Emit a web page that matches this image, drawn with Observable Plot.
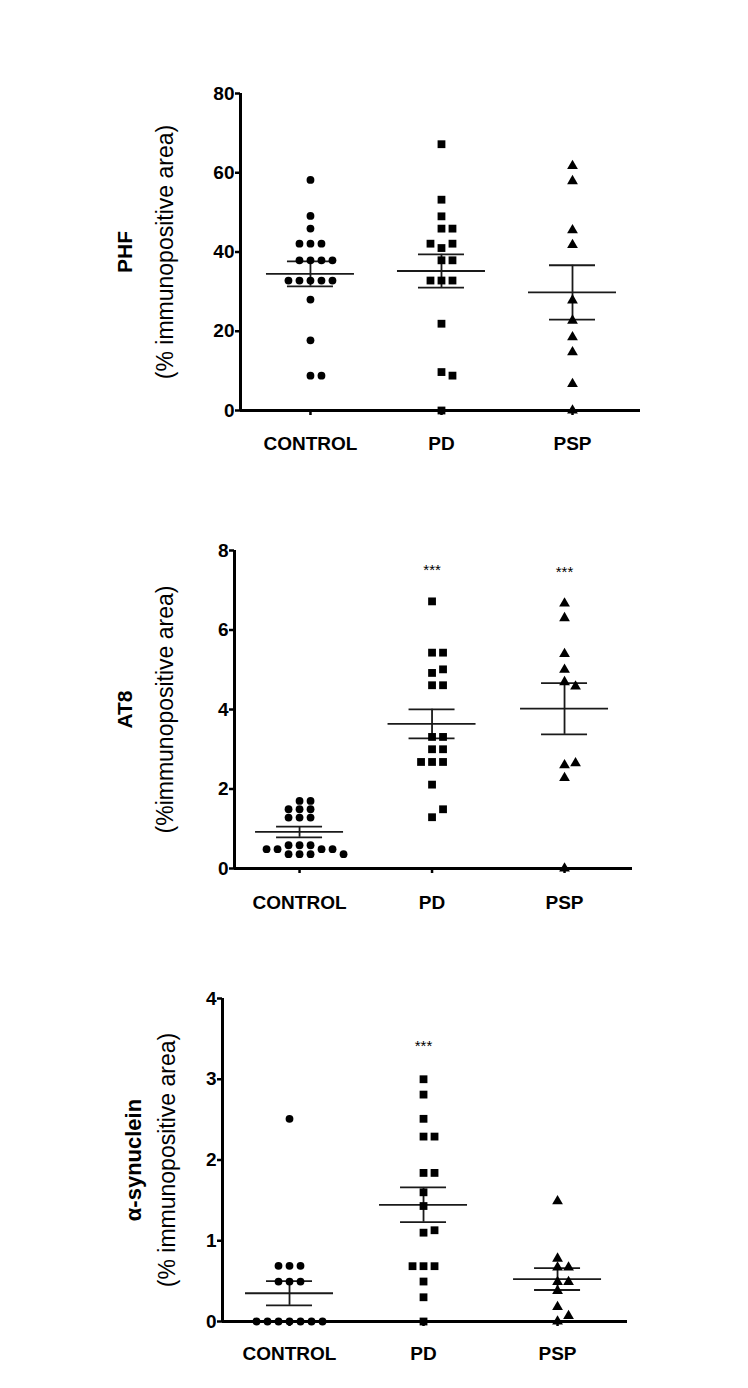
<!DOCTYPE html>
<html>
<head>
<meta charset="utf-8">
<script src="https://cdn.jsdelivr.net/npm/d3@7"></script>
<script src="https://cdn.jsdelivr.net/npm/@observablehq/plot@0.6"></script>
<style>
  body { margin: 0; background: #fff; }
  #wrap { position: relative; width: 748px; height: 1388px; background: #fff; }
  #wrap svg { position: absolute; left: 0; }
  #wrap [aria-label="y-axis tick"] path, #wrap [aria-label="x-axis tick"] path { stroke-width: 2.5px; }
</style>
</head>
<body>
<div id="wrap"></div>
<script>
// ---------- data ----------
const groups = ["CONTROL", "PD", "PSP"];

const phfControl = [58.2, 49.1, 45.9, 42.1, 42.1, 42.1, 37.9, 37.9, 37.9, 37.9, 32.8, 32.8, 32.8, 32.8, 32.8, 28.0, 17.7, 8.8, 8.8];
const phfPD = [67.2, 53.2, 49.0, 45.9, 45.9, 41.0, 42.1, 42.1, 37.9, 37.9, 32.8, 32.8, 32.8, 21.9, 9.7, 8.8, 0];
const phfPSP = [61.7, 57.9, 45.5, 41.8, 27.8, 22.7, 18.5, 14.7, 6.7, 0];
const phfMean = [34.5, 35.2, 29.8];
const phfSem = [3.15, 4.2, 6.85];
const phfTicks = [0, 20, 40, 60, 80];

const at8Control = [1.70, 1.70, 1.49, 1.49, 1.49, 1.28, 1.28, 1.28, 0.585, 0.585, 0.585, 0.485, 0.485, 0.485, 0.485, 0.36, 0.36, 0.36, 0.36];
const at8PD = [6.72, 5.43, 5.43, 4.92, 5.01, 4.61, 4.61, 3.31, 3.31, 3.0, 3.0, 2.68, 2.68, 2.68, 2.11, 1.29, 1.49];
const at8PSP = [6.67, 6.30, 5.40, 5.0, 4.69, 4.58, 2.6, 2.65, 2.28, 0];
const at8Mean = [0.92, 3.64, 4.02];
const at8Sem = [0.135, 0.365, 0.645];
const at8Ticks = [0, 2, 4, 6, 8];
const at8StarGroups = [1, 2];
const at8StarValues = [7.5, 7.45];

const synControl = [2.51, 0.69, 0.69, 0.69, 0.495, 0.495, 0.495, 0, 0, 0, 0, 0, 0, 0];
const synPD = [3.0, 2.81, 2.51, 2.29, 2.29, 1.84, 1.84, 1.6, 1.43, 1.10, 1.13, 0.685, 0.685, 0.685, 0.495, 0.30, 0];
const synPSP = [1.49, 0.78, 0.67, 0.67, 0.49, 0.49, 0.38, 0.18, 0, 0.07];
const synMean = [0.35, 1.445, 0.525];
const synSem = [0.15, 0.215, 0.135];
const synTicks = [0, 1, 2, 3, 4];
const synStarGroups = [1];
const synStarValues = [3.41];

// ---------- layout helpers ----------
const FONT = "Liberation Sans, Arial, Helvetica, sans-serif";
const W = 748;

// scatter points with the same value side by side (column-style dot plot)
function place(values, gi, pxPerY, stepUnits) {
  const placed = [];
  const order = [0, 1, -1, 2, -2, 3, -3, 4, -4];
  return values.map(v => {
    for (const k of order) {
      if (!placed.some(p => p.k === k && Math.abs(p.v - v) * pxPerY < 8)) {
        placed.push({k, v});
        return {g: gi, v, x: gi + k * stepUnits};
      }
    }
  });
}

function panel(cfg) {
  const innerW = W - cfg.ml - cfg.mr;
  const pxPerX = innerW / (cfg.x1 - cfg.x0);
  const ymax = cfg.ticks[cfg.ticks.length - 1];
  const pxPerY = cfg.ph / ymax;
  const step = 11 / pxPerX;
  const pts = cfg.series.map((vals, gi) => place(vals, gi, pxPerY, step));
  const stats = groups.map((g, i) => ({i, mean: cfg.mean[i], lo: cfg.mean[i] - cfg.sem[i], hi: cfg.mean[i] + cfg.sem[i]}));
  const mh = 44 / pxPerX, ch = 23 / pxPerX;
  const stars = (cfg.starGroups || []).map((g, k) => ({g, v: cfg.starValues[k]}));
  const lineStyle = {stroke: "#1a1a1a", strokeWidth: 1.8};

  const svg = Plot.plot({
    width: W,
    height: cfg.mt + cfg.ph + cfg.mb,
    marginLeft: cfg.ml, marginRight: cfg.mr, marginTop: cfg.mt, marginBottom: cfg.mb,
    style: {fontFamily: FONT, fontSize: "19px", fontWeight: "bold", color: "#000", background: "#fff"},
    x: {domain: [cfg.x0, cfg.x1], ticks: [0, 1, 2], tickFormat: i => groups[i], tickSize: 5, tickPadding: cfg.xpad, label: null},
    y: {domain: [0, ymax], ticks: cfg.ticks, tickFormat: d => String(d), tickSize: 5, tickPadding: 1, label: null},
    marks: [
      Plot.ruleY(stats, {y: "mean", x1: d => d.i - mh, x2: d => d.i + mh, ...lineStyle}),
      Plot.ruleX(stats, {x: "i", y1: "lo", y2: "hi", ...lineStyle}),
      Plot.ruleY(stats, {y: "lo", x1: d => d.i - ch, x2: d => d.i + ch, ...lineStyle}),
      Plot.ruleY(stats, {y: "hi", x1: d => d.i - ch, x2: d => d.i + ch, ...lineStyle}),
      Plot.ruleY([0], {stroke: "#000", strokeWidth: 3}),
      Plot.ruleX([cfg.x0], {stroke: "#000", strokeWidth: 3}),
      Plot.dot(pts[0], {x: "x", y: "v", symbol: "circle", r: 3.9, fill: "#000", stroke: "none"}),
      Plot.dot(pts[1], {x: "x", y: "v", symbol: "square", r: 4.4, fill: "#000", stroke: "none"}),
      Plot.dot(pts[2], {x: "x", y: "v", symbol: "triangle", r: 4.0, fill: "#000", stroke: "none"}),
      Plot.text(stars, {x: "g", y: "v", text: () => "***", fontSize: 15, fontWeight: "normal", fill: "#000"}),
      Plot.text([cfg.title], {text: d => d, frameAnchor: "left", dx: cfg.tdx, rotate: -90, textAnchor: "middle", lineAnchor: "middle", fontSize: cfg.tfs, fontWeight: "bold", fill: "#000"}),
      Plot.text([cfg.sub], {text: d => d, frameAnchor: "left", dx: cfg.sdx, rotate: -90, textAnchor: "middle", lineAnchor: "middle", fontSize: 23, fontWeight: "normal", fill: "#000"})
    ]
  });
  svg.style.top = cfg.top + "px";
  document.getElementById("wrap").appendChild(svg);
}

panel({top: 60, mt: 33, ph: 317, mb: 60, ml: 240, mr: 108, x0: -0.534, x1: 2.519, xpad: 21,
  ticks: phfTicks, series: [phfControl, phfPD, phfPSP], mean: phfMean, sem: phfSem,
  title: "PHF", tfs: 21, tdx: -115, sub: "(% immunopositive area)", sdx: -75});

panel({top: 520, mt: 30, ph: 318, mb: 60, ml: 234, mr: 116, x0: -0.491, x1: 2.513, xpad: 22,
  ticks: at8Ticks, series: [at8Control, at8PD, at8PSP], mean: at8Mean, sem: at8Sem,
  starGroups: at8StarGroups, starValues: at8StarValues,
  title: "AT8", tfs: 21, tdx: -109, sub: "(%immunopositive area)", sdx: -69});

panel({top: 970, mt: 28, ph: 323, mb: 60, ml: 222, mr: 121, x0: -0.5, x1: 2.522, xpad: 20,
  ticks: synTicks, series: [synControl, synPD, synPSP], mean: synMean, sem: synSem,
  starGroups: synStarGroups, starValues: synStarValues,
  title: "α-synuclein", tfs: 22, tdx: -89, sub: "(% immunopositive area)", sdx: -55});
</script>
</body>
</html>
